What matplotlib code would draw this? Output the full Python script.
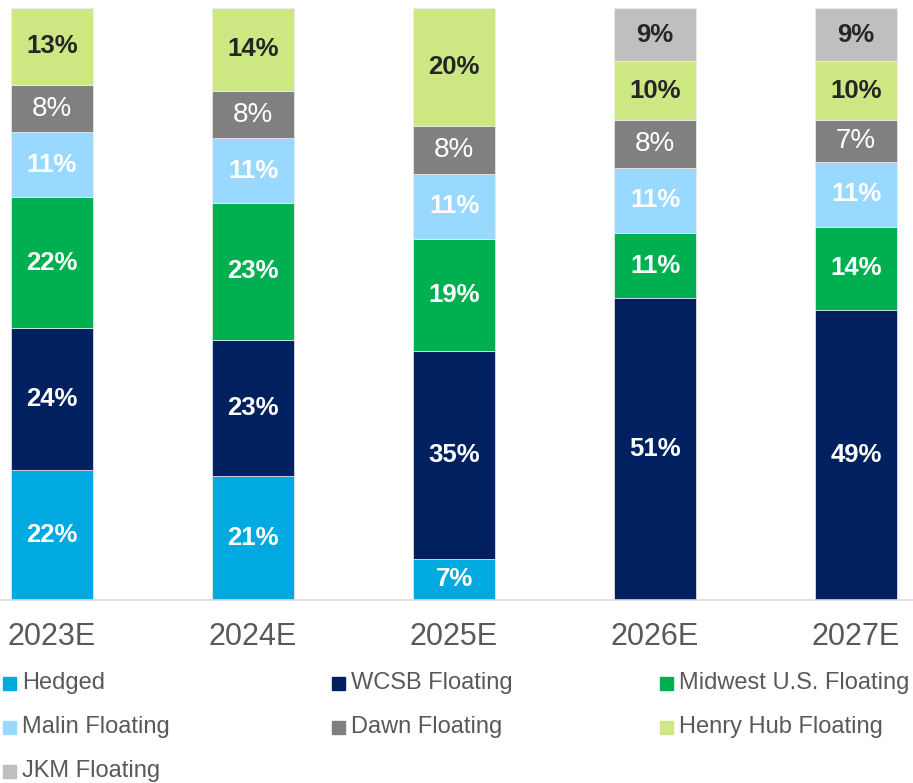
import matplotlib
matplotlib.use("Agg")
import matplotlib.pyplot as plt
import numpy as np
from matplotlib.patches import Rectangle

years = ["2023E", "2024E", "2025E", "2026E", "2027E"]
series = ["Hedged", "WCSB Floating", "Midwest U.S. Floating",
          "Malin Floating", "Dawn Floating", "Henry Hub Floating", "JKM Floating"]
hedged = [22, 21, 7, 0, 0]
wcsb = [24, 23, 35, 51, 49]
midwest = [22, 23, 19, 11, 14]
malin = [11, 11, 11, 11, 11]
dawn = [8, 8, 8, 8, 7]
henry_hub = [13, 14, 20, 10, 10]
jkm = [0, 0, 0, 9, 9]

values = [hedged, wcsb, midwest, malin, dawn, henry_hub, jkm]
colors = ["#00A9E0", "#002060", "#00B050", "#99D9FF", "#808080", "#CDE883", "#BFBFBF"]
label_colors = ["white", "white", "white", "white", "white", "#262626", "#262626"]
label_weights = ["bold", "bold", "bold", "bold", "normal", "bold", "bold"]
label_sizes = [18.5, 18.5, 18.5, 18.5, 20, 18.5, 18.5]

plt.rcParams["font.family"] = ["Liberation Sans", "DejaVu Sans"]

fig = plt.figure(figsize=(9.13, 7.83), dpi=100)
ax = fig.add_axes([0, (783 - 600) / 783, 1, 592 / 783])

x = np.arange(len(years))
bottom = np.zeros(len(years))
for vals, color, lc, lw_, ls in zip(values, colors, label_colors, label_weights, label_sizes):
    vals = np.array(vals, dtype=float)
    ax.bar(x, vals, bottom=bottom, width=0.403, color=color,
           edgecolor="#eeeeee", linewidth=0.5)
    for xi, b, v in zip(x, bottom, vals):
        if v > 0:
            ax.text(xi, b + v / 2, f"{int(v)}%", ha="center", va="center",
                    color=lc, fontsize=ls, fontweight=lw_)
    bottom += vals

ax.set_xlim(-52 / 201, (913 - 52) / 201)
ax.set_ylim(0, 100)
ax.set_xticks(x, years)
ax.tick_params(axis="x", length=0, pad=16, labelsize=22, labelcolor="#595959")
ax.set_yticks([])
for side in ["top", "right", "left"]:
    ax.spines[side].set_visible(False)
ax.spines["bottom"].set_color("#D9D9D9")
ax.spines["bottom"].set_linewidth(1.2)

# legend laid out row by row, three per row
W, H = 913, 783
col_x = [3, 332, 660]
for i, (name, color) in enumerate(zip(series, colors)):
    row, col = divmod(i, 3)
    yc = 683 + row * 44
    fig.patches.append(Rectangle((col_x[col] / W, (H - yc - 6.5) / H), 13 / W, 13 / H,
                                 transform=fig.transFigure, color=color))
    fig.text((col_x[col] + 19) / W, (H - yc) / H, name, ha="left", va="center",
             fontsize=17, color="#595959")

fig.savefig("out.png", dpi=100)
